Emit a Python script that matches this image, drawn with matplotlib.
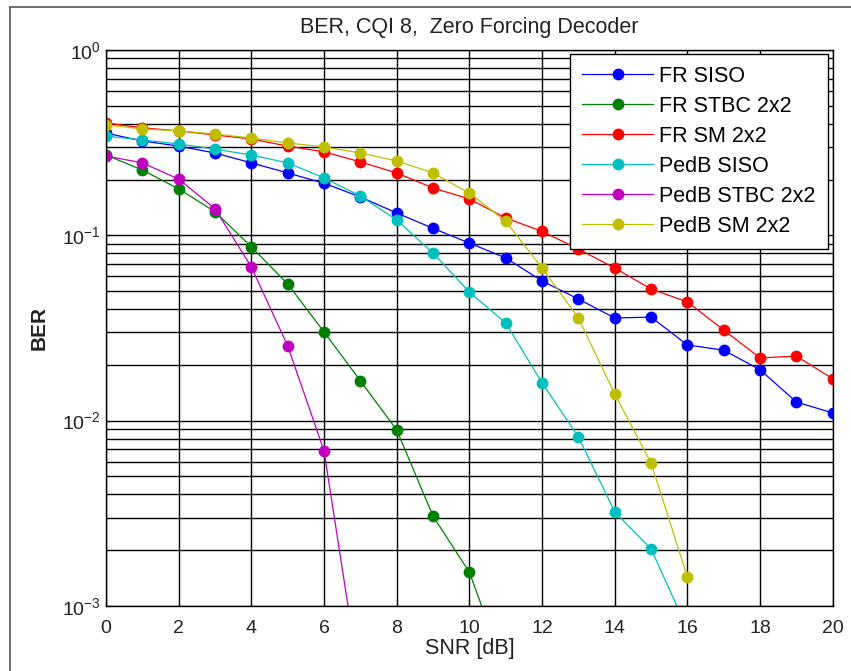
import matplotlib
matplotlib.use("Agg")
import matplotlib.pyplot as plt
from matplotlib.lines import Line2D
import numpy as np

plt.rcParams['font.family'] = ['Liberation Sans', 'DejaVu Sans']
plt.rcParams['mathtext.fontset'] = 'custom'
plt.rcParams['mathtext.rm'] = 'Liberation Sans'
plt.rcParams['mathtext.it'] = 'Liberation Sans'

# BER vs SNR, zero forcing decoder, CQI 8
snr = np.arange(0, 21)

fr_siso = [0.356, 0.323, 0.303, 0.278, 0.246, 0.217, 0.191, 0.161, 0.132, 0.109, 0.0908,
           0.0755, 0.0567, 0.0453, 0.0358, 0.0362, 0.0256, 0.0240, 0.0188, 0.0126, 0.0110]
fr_stbc = [0.271, 0.225, 0.178, 0.134, 0.0865, 0.0546, 0.0301, 0.0164, 0.0089, 0.00305,
           0.00152, 0.00044]
fr_sm = [0.404, 0.380, 0.366, 0.348, 0.331, 0.303, 0.282, 0.249, 0.217, 0.180, 0.157,
         0.124, 0.105, 0.0843, 0.0666, 0.0513, 0.0437, 0.0308, 0.0218, 0.0223, 0.0168]
pedb_siso = [0.343, 0.327, 0.311, 0.292, 0.271, 0.246, 0.204, 0.163, 0.121, 0.0802,
             0.0494, 0.0336, 0.0160, 0.00816, 0.00322, 0.00203, 0.00075]
pedb_stbc = [0.268, 0.246, 0.201, 0.139, 0.0675, 0.0253, 0.00686, 0.00037]
pedb_sm = [0.394, 0.375, 0.366, 0.352, 0.335, 0.315, 0.300, 0.278, 0.252, 0.217, 0.169,
           0.119, 0.0666, 0.0358, 0.0139, 0.00591, 0.00143]

series = [
    ('FR SISO', fr_siso, (0, 0, 1)),
    ('FR STBC 2x2', fr_stbc, (0, 0.5, 0)),
    ('FR SM 2x2', fr_sm, (1, 0, 0)),
    ('PedB SISO', pedb_siso, (0, 0.75, 0.75)),
    ('PedB STBC 2x2', pedb_stbc, (0.75, 0, 0.75)),
    ('PedB SM 2x2', pedb_sm, (0.75, 0.75, 0)),
]

fig = plt.figure(figsize=(8.51, 6.71), dpi=100)
ax = fig.add_axes([0.1246, 0.0969, 0.854, 0.8286])

for name, ber, col in series:
    ax.semilogy(snr[:len(ber)], ber, '-o', color=col, lw=0.9, ms=7.5, label=name)

ax.set_xlim(0, 20)
ax.set_ylim(1e-3, 1)
ax.set_xticks(np.arange(0, 21, 2))
ax.grid(True, which='major', color='black', lw=1.0, ls='-')
ax.grid(True, which='minor', axis='y', color='black', lw=1.0, ls='-')
ax.tick_params(which='both', direction='in', labelsize=14, colors='black', labelcolor='#222222')
ax.tick_params(axis='x', pad=10)
for s in ax.spines.values():
    s.set_color('black')
    s.set_linewidth(1.0)

ax.set_title('BER, CQI 8,  Zero Forcing Decoder', fontsize=15.5, color='#222222', pad=12)
ax.set_xlabel('SNR [dB]', fontsize=15.5, color='#222222', labelpad=1)
ax.set_ylabel('BER', fontsize=15, fontweight='bold', color='#222222', labelpad=10)

leg = ax.legend(loc='upper right', bbox_to_anchor=(0.993, 0.993), borderaxespad=0,
                fontsize=15.5, handlelength=3.3, labelspacing=0.42, borderpad=0.55,
                handletextpad=0.3, fancybox=False, framealpha=1, edgecolor='black')
leg.get_frame().set_linewidth(1.0)

# window frame
fig.add_artist(Line2D([0.0118, 0.0118], [0, 0.9896], color='#555555', lw=1.2,
                      transform=fig.transFigure))
fig.add_artist(Line2D([0.0118, 1.0], [0.9896, 0.9896], color='#555555', lw=1.2,
                      transform=fig.transFigure))

fig.savefig('out.png', dpi=100)
